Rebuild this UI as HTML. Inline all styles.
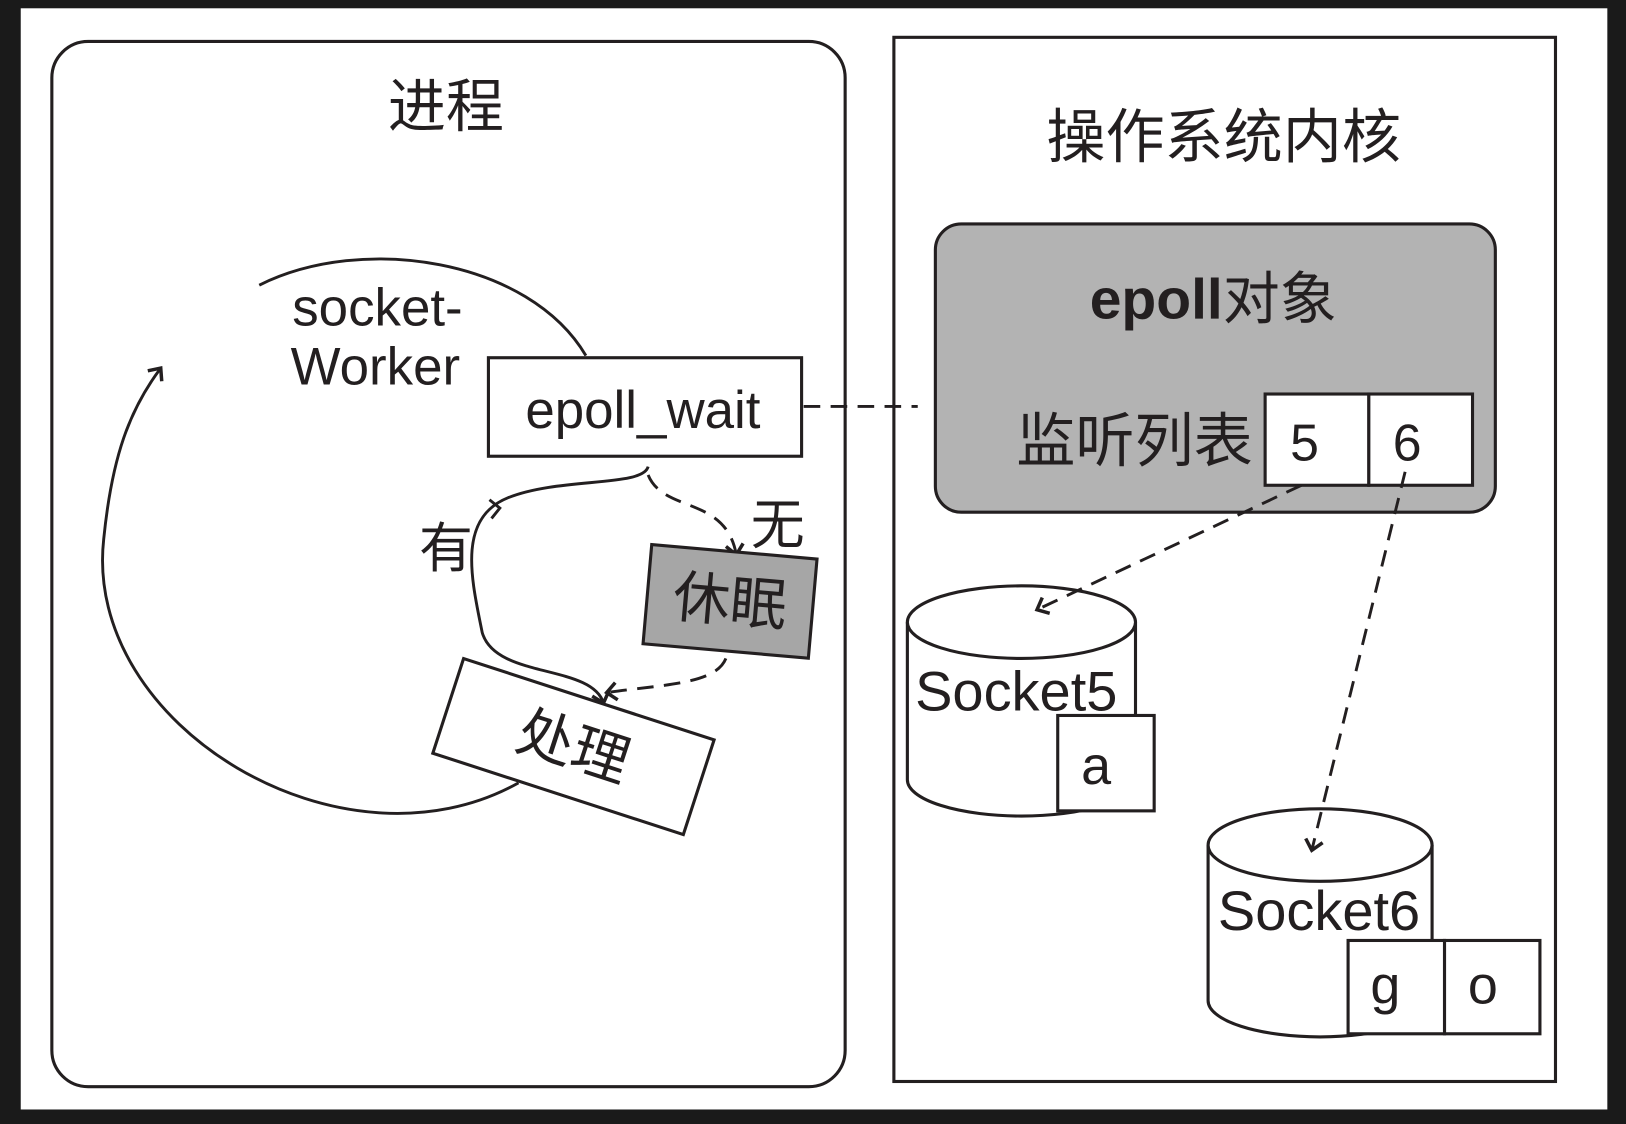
<!DOCTYPE html>
<html><head><meta charset="utf-8"><style>
html,body{margin:0;padding:0;background:#1a1a1a;}
svg{display:block}
text{font-family:"Liberation Sans","Noto Sans CJK SC",sans-serif;fill:#231f20}
</style></head><body>
<svg width="1626" height="1124" viewBox="0 0 1568 1084" preserveAspectRatio="none" xmlns="http://www.w3.org/2000/svg">
<defs>
<marker id="ar" viewBox="0 0 20 20" refX="10" refY="10" markerWidth="24" markerHeight="24" markerUnits="userSpaceOnUse" orient="auto">
<path d="M2,3 L10,10 L2,17" fill="none" stroke="#231f20" stroke-width="2.8"/>
</marker>
</defs>
<rect x="0" y="0" width="1568" height="1084" fill="#1a1a1a"/>
<rect x="20" y="8" width="1530" height="1062" fill="#fff"/>
<g stroke="#231f20" stroke-width="3" fill="none">
<rect x="50" y="40" width="765" height="1008" rx="35"/>
<rect x="862" y="36" width="638" height="1007"/>
</g>
<text x="430" y="122" font-size="56" text-anchor="middle">进程</text>
<text x="1180" y="152" font-size="57" text-anchor="middle">操作系统内核</text>

<rect x="902" y="216" width="540" height="278" rx="25" fill="#b3b3b3" stroke="#231f20" stroke-width="3"/>
<text x="1170" y="307" font-size="55" text-anchor="middle"><tspan font-weight="bold">epoll</tspan>对象</text>
<text x="1208" y="445" font-size="57" text-anchor="end">监听列表</text>
<rect x="1220" y="380" width="100" height="88" fill="#fff" stroke="#231f20" stroke-width="3"/>
<rect x="1320" y="380" width="100" height="88" fill="#fff" stroke="#231f20" stroke-width="3"/>
<text x="1258" y="444" font-size="50" text-anchor="middle">5</text>
<text x="1357" y="444" font-size="50" text-anchor="middle">6</text>

<g stroke="#231f20" stroke-width="2.8" fill="none">
<path d="M250,275 C350,225 510,250 565,343"/>
<path d="M500,755 C330,850 80,700 100,520 C108,440 125,395 155,355" marker-end="url(#ar)"/>
<path d="M625,450 C620,470 540,460 490,480 C440,500 455,560 465,610 C478,655 570,640 582,678" marker-end="url(#ar)"/>
<path d="M472,482 L482,490 L474,500"/>
<g stroke-dasharray="16,10">
<path d="M775,392 L885,392"/>
<path d="M625,458 C640,495 700,478 710,535" marker-end="url(#ar)"/>
<path d="M700,635 C690,660 640,660 585,668" marker-end="url(#ar)"/>
</g>
</g>

<text x="364" y="314" font-size="51" text-anchor="middle">socket-</text>
<text x="362" y="371" font-size="51" text-anchor="middle">Worker</text>
<rect x="471" y="345" width="302" height="95" fill="#fff" stroke="#231f20" stroke-width="3"/>
<text x="620" y="413" font-size="51" text-anchor="middle">epoll_wait</text>
<text x="430" y="547" font-size="52" text-anchor="middle">有</text>
<text x="750" y="524" font-size="52" text-anchor="middle">无</text>

<g transform="translate(704,580) rotate(5)">
<rect x="-80" y="-48" width="160" height="96" fill="#a6a6a6" stroke="#231f20" stroke-width="3"/>
<text x="0" y="19" font-size="55" text-anchor="middle">休眠</text>
</g>
<g transform="translate(553,720) rotate(18)">
<rect x="-127" y="-48" width="254" height="96" fill="#fff" stroke="#231f20" stroke-width="3"/>
<text x="0" y="19" font-size="55" text-anchor="middle">处理</text>
</g>

<g stroke="#231f20" stroke-width="3" fill="#fff">
<path d="M875,600 L875,752 A110,35 0 0 0 1095,752 L1095,600"/>
<ellipse cx="985" cy="600" rx="110" ry="35"/>
<path d="M1165,815 L1165,965 A108,35 0 0 0 1381,965 L1381,815"/>
<ellipse cx="1273" cy="815" rx="108" ry="35"/>
</g>
<text x="980" y="685" font-size="54" text-anchor="middle">Socket5</text>
<text x="1272" y="897" font-size="54" text-anchor="middle">Socket6</text>
<g stroke="#231f20" stroke-width="3" fill="#fff">
<rect x="1020" y="690" width="93" height="92"/>
<rect x="1300" y="907" width="93" height="90"/>
<rect x="1393" y="907" width="92" height="90"/>
</g>
<text x="1057" y="756" font-size="52" text-anchor="middle">a</text>
<text x="1336" y="968" font-size="52" text-anchor="middle">g</text>
<text x="1430" y="968" font-size="52" text-anchor="middle">o</text>

<g stroke="#231f20" stroke-width="2.8" fill="none" stroke-dasharray="16,10">
<path d="M1255,468 L1000,588" marker-end="url(#ar)"/>
<path d="M1355,455 L1265,820" marker-end="url(#ar)"/>
</g>
</svg>
</body></html>
